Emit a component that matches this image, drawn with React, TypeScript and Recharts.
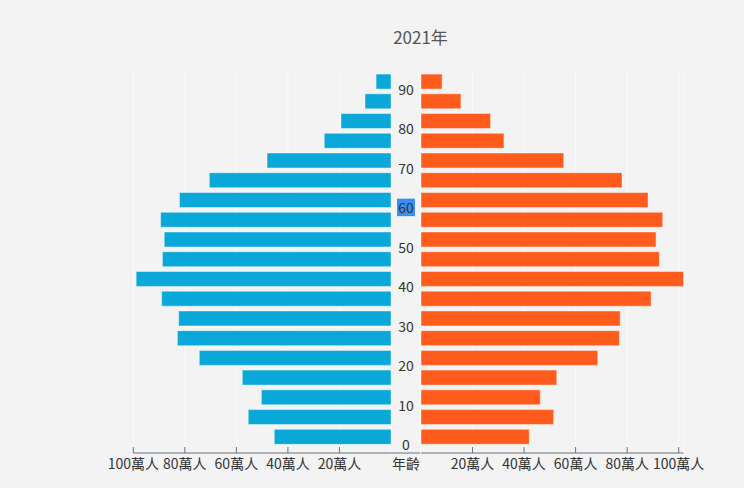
import { Bar, BarChart, CartesianGrid, XAxis, YAxis } from "recharts";

const title = "2021年";
const ageGroups = [
  "0-4", "5-9", "10-14", "15-19", "20-24", "25-29", "30-34", "35-39", "40-44", "45-49",
  "50-54", "55-59", "60-64", "65-69", "70-74", "75-79", "80-84", "85-89", "90+",
];
// 萬人
const male = [45.3, 55.4, 50.3, 57.7, 74.4, 82.9, 82.4, 89.0, 98.9, 88.7, 88.0, 89.4, 82.1, 70.5, 48.1, 25.9, 19.4, 10.1, 5.8];
const female = [42.0, 51.5, 46.3, 52.7, 68.6, 77.0, 77.3, 89.3, 101.9, 92.5, 91.2, 93.8, 88.1, 78.0, 55.4, 32.2, 27.0, 15.5, 8.2];
const valueTicks = [0, 20, 40, 60, 80, 100];
const highlightedAge = 60;

const rows = ageGroups.map((age, i) => ({ age, male: male[i], female: female[i] }));

const FONT = "'Noto Sans CJK TC', 'Noto Sans', sans-serif";
const AXIS = "#6e7079";

function ValueTick(props: any) {
  const { x, y, payload } = props;
  if (payload.value === 0) return <g />;
  return (
    <g>
      <line x1={x} x2={x} y1={y - 6} y2={y} stroke={AXIS} />
      <text x={x} y={y + 16} textAnchor="middle" fontSize={14} fill="#333" fontFamily={FONT}>
        {payload.value}萬人
      </text>
    </g>
  );
}

// age labels sit on the boundary below the group that starts each decade
function AgeTick(props: any) {
  const { x, y, payload } = props;
  const start = parseInt(String(payload.value), 10);
  if (start % 10 !== 0) return <g />;
  const half = typeof payload.offset === "number" && payload.offset > 0 ? payload.offset : 9.87;
  const cx = x - 14;
  const cy = y + half - 1.5;
  const hl = start === highlightedAge;
  return (
    <g>
      {hl && <rect x={cx - 9} y={cy - 9.5} width={18} height={17.5} fill="#3b8ff3" />}
      <text x={cx} y={cy} dy={5} textAnchor="middle" fontSize={14} fill="#333" fontFamily={FONT}>
        {start}
      </text>
    </g>
  );
}

function AgeLabel(props: any) {
  const { viewBox } = props;
  if (!viewBox) return null;
  return (
    <text x={viewBox.x - 14} y={viewBox.y + viewBox.height + 16} textAnchor="middle" fontSize={14} fill="#333" fontFamily={FONT}>
      年齡
    </text>
  );
}

export default function App() {
  return (
    <div style={{ position: "absolute", left: 0, top: 0, width: 744, height: 488, background: "#f3f3f3", fontFamily: FONT }}>
      <div style={{ position: "absolute", left: 320.5, top: 25, width: 200, textAlign: "center", fontSize: 17, lineHeight: "24px", color: "#555" }}>
        {title}
      </div>
      <div style={{ position: "absolute", left: 0, top: 0 }}>
        <BarChart
          width={421}
          height={488}
          data={rows}
          layout="vertical"
          margin={{ top: 71.5, right: 0, bottom: 10, left: 133.3 }}
          barCategoryGap="13%"
        >
          <CartesianGrid horizontal={false} stroke="#fafafa" />
          <XAxis
            type="number"
            domain={[0, 100]}
            reversed
            ticks={valueTicks}
            interval={0}
            padding={{ left: 0, right: 29 }}
            height={25}
            tickSize={0}
            tickMargin={0}
            tickLine={false}
            axisLine={{ stroke: AXIS }}
            tick={<ValueTick />}
          />
          <YAxis yAxisId="cat" type="category" dataKey="age" reversed hide padding={{ top: 0, bottom: 6.5 }} />
          <YAxis
            yAxisId="age"
            type="category"
            dataKey="age"
            reversed
            orientation="right"
            interval={0}
            width={1}
            padding={{ top: 0, bottom: 6.5 }}
            axisLine={false}
            tickLine={false}
            tickSize={0}
            tickMargin={0}
            tick={<AgeTick />}
            label={<AgeLabel />}
          />
          <Bar
            yAxisId="cat"
            dataKey="male"
            fill="#0aa8d8"
            stroke="#ffffff"
            strokeOpacity={0.45}
            isAnimationActive={false}
          />
        </BarChart>
      </div>
      <div style={{ position: "absolute", left: 421, top: 0 }}>
        <BarChart
          width={323}
          height={488}
          data={rows}
          layout="vertical"
          margin={{ top: 71.5, right: 60.4, bottom: 10, left: 0 }}
          barCategoryGap="13%"
        >
          <CartesianGrid horizontal={false} stroke="#fafafa" />
          <XAxis
            type="number"
            domain={[0, 100]}
            ticks={valueTicks}
            interval={0}
            height={25}
            tickSize={0}
            tickMargin={0}
            tickLine={false}
            axisLine={{ stroke: AXIS }}
            tick={<ValueTick />}
          />
          <YAxis type="category" dataKey="age" reversed hide padding={{ top: 0, bottom: 6.5 }} />
          <Bar
            dataKey="female"
            fill="#ff5b1c"
            stroke="#ffffff"
            strokeOpacity={0.45}
            isAnimationActive={false}
          />
        </BarChart>
      </div>
    </div>
  );
}
